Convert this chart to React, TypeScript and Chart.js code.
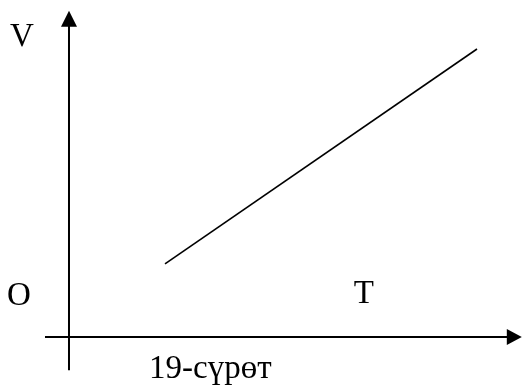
import React, { useEffect, useRef } from "react";
import { Chart, registerables } from "chart.js";

Chart.register(...registerables);

// Data (abstract units): temperature T vs volume V, straight line
const tValues = [3, 12.75];
const vValues = [2.03, 8.0];

// Axis ranges
const xMin = -2.156;
const xMax = 14.1875;
const yMin = -1.333;
const yMax = 9.361;

// Axis extents (in data units)
const xAxisFrom = -0.75;
const xAxisTo = 14.15;
const yAxisFrom = -0.92;
const yAxisTo = 9.06;

// Labels
const originLabel = "O";
const xLabel = "T";
const yLabel = "V";
const caption = "19-сүрөт";

const FONT = "33px 'Liberation Serif', 'Times New Roman', serif";

const axesPlugin = {
  id: "axesArrows",
  afterDraw(chart: any) {
    const ctx = chart.ctx as CanvasRenderingContext2D;
    const xs = chart.scales.x;
    const ys = chart.scales.y;
    const ox = xs.getPixelForValue(0);
    const oy = ys.getPixelForValue(0);
    ctx.save();
    ctx.strokeStyle = "#000";
    ctx.fillStyle = "#000";
    ctx.lineWidth = 2;
    // vertical axis
    const vTop = ys.getPixelForValue(yAxisTo);
    const vBottom = ys.getPixelForValue(yAxisFrom);
    ctx.beginPath();
    ctx.moveTo(ox, vBottom);
    ctx.lineTo(ox, vTop + 10);
    ctx.stroke();
    ctx.beginPath();
    ctx.moveTo(ox, vTop);
    ctx.lineTo(ox - 8, vTop + 16);
    ctx.lineTo(ox + 8, vTop + 16);
    ctx.closePath();
    ctx.fill();
    // horizontal axis
    const hLeft = xs.getPixelForValue(xAxisFrom);
    const hRight = xs.getPixelForValue(xAxisTo);
    ctx.beginPath();
    ctx.moveTo(hLeft, oy);
    ctx.lineTo(hRight - 10, oy);
    ctx.stroke();
    ctx.beginPath();
    ctx.moveTo(hRight, oy);
    ctx.lineTo(hRight - 15, oy - 8);
    ctx.lineTo(hRight - 15, oy + 8);
    ctx.closePath();
    ctx.fill();
    // labels
    ctx.font = FONT;
    ctx.textBaseline = "alphabetic";
    ctx.textAlign = "left";
    ctx.fillText(yLabel, ox - 59, vTop + 35);
    ctx.fillText(originLabel, ox - 62, oy - 32);
    ctx.fillText(xLabel, xs.getPixelForValue(8.9), oy - 34);
    ctx.fillText(caption, xs.getPixelForValue(2.5), oy + 41);
    ctx.restore();
  },
};

export default function App() {
  const ref = useRef<HTMLCanvasElement>(null);
  useEffect(() => {
    if (!ref.current) return;
    const chart = new Chart(ref.current, {
      type: "scatter",
      data: {
        datasets: [
          {
            data: tValues.map((t, i) => ({ x: t, y: vValues[i] })),
            showLine: true,
            borderColor: "#000",
            borderWidth: 1.6,
            pointRadius: 0,
            fill: false,
          },
        ],
      },
      options: {
        animation: false,
        responsive: false,
        maintainAspectRatio: false,
        layout: { padding: 0 },
        plugins: { legend: { display: false }, tooltip: { enabled: false } },
        scales: {
          x: { type: "linear", min: xMin, max: xMax, display: false },
          y: { type: "linear", min: yMin, max: yMax, display: false },
        },
      },
      plugins: [axesPlugin],
    });
    return () => chart.destroy();
  }, []);
  return (
    <div style={{ position: "fixed", left: 0, top: 0, width: 523, height: 385, background: "#fff" }}>
      <canvas ref={ref} width={523} height={385} style={{ display: "block", width: 523, height: 385 }} />
    </div>
  );
}
